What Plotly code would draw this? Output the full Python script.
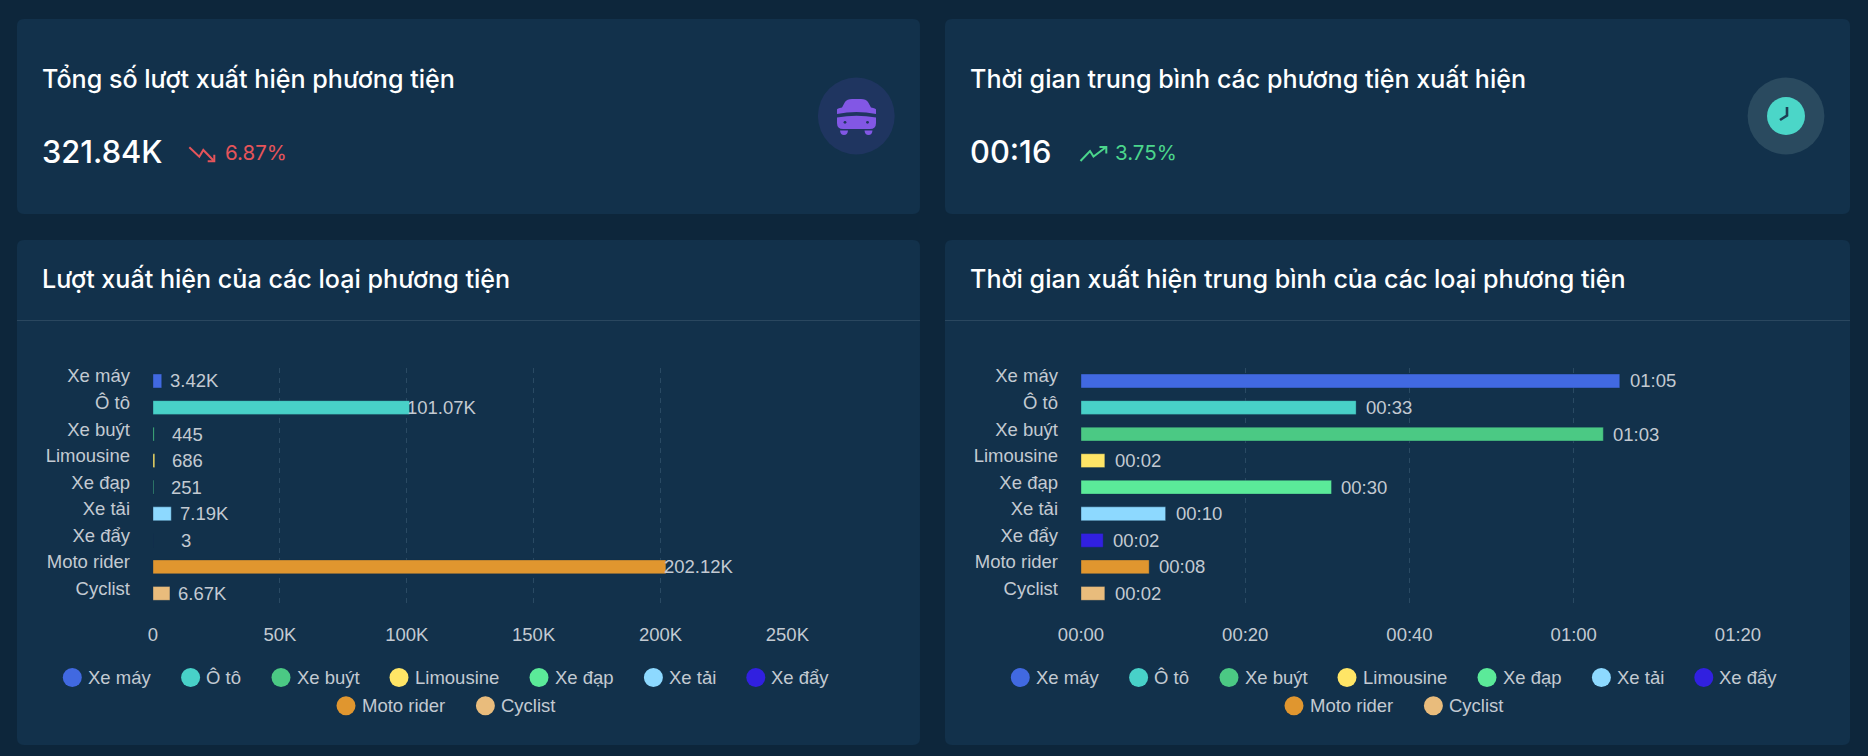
import re
import plotly.graph_objects as go

W, H = 1868, 756

# ---------- data ----------
categories = ["Xe máy", "Ô tô", "Xe buýt", "Limousine", "Xe đạp", "Xe tải", "Xe đẩy", "Moto rider", "Cyclist"]
counts = [3420, 101070, 445, 686, 251, 7190, 3, 202120, 6670]
count_labels = ["3.42K", "101.07K", "445", "686", "251", "7.19K", "3", "202.12K", "6.67K"]
durations = [65.6, 33.5, 63.6, 2.9, 30.5, 10.3, 2.7, 8.3, 2.9]
duration_labels = ["01:05", "00:33", "01:03", "00:02", "00:30", "00:10", "00:02", "00:08", "00:02"]
count_ticks = [0, 50000, 100000, 150000, 200000, 250000]
count_ticktext = ["0", "50K", "100K", "150K", "200K", "250K"]
duration_ticks = [0, 20, 40, 60, 80]
duration_ticktext = ["00:00", "00:20", "00:40", "01:00", "01:20"]
colors = ["#4169E1", "#48D1C8", "#4BC984", "#FFE566", "#5BEA99", "#8DD9FF", "#3120E0", "#E0962F", "#E9BC7C"]

# ---------- style ----------
PAGE = "#0D263B"
CARD = "#12314B"
FONT = "Inter"
CHART_FONT = "Liberation Sans"
CHART_SIZE = 18.5
LABEL = "#C3CAD2"
GRID = "#2A4A63"
DIVIDER = "#2A475F"


def fx(px):
    return px / W


def fy(py):
    return 1 - py / H


def path(spec):
    """Pixel path string -> paper fraction path string."""
    out, i = [], 0
    for tok in re.findall(r"[A-Za-z]|-?\d+\.?\d*", spec):
        if tok.isalpha():
            out.append(tok)
            i = 0
        else:
            v = float(tok)
            out.append(f"{fx(v):.6f}" if i % 2 == 0 else f"{fy(v):.6f}")
            i += 1
    return " ".join(out)


def rrect(x0, y0, x1, y1, r=7):
    return (f"M {x0+r} {y0} L {x1-r} {y0} Q {x1} {y0} {x1} {y0+r} L {x1} {y1-r} Q {x1} {y1} {x1-r} {y1} "
            f"L {x0+r} {y1} Q {x0} {y1} {x0} {y1-r} L {x0} {y0+r} Q {x0} {y0} {x0+r} {y0} Z")


shapes, annots = [], []


def fill_path(spec, color):
    shapes.append(dict(type="path", xref="paper", yref="paper", path=path(spec), fillcolor=color,
                       line=dict(width=0), layer="below"))


def stroke_path(spec, color, w=2):
    shapes.append(dict(type="path", xref="paper", yref="paper", path=path(spec),
                       line=dict(color=color, width=w), layer="below"))


def circle(cx, cy, r, color):
    shapes.append(dict(type="circle", xref="paper", yref="paper", x0=fx(cx - r), x1=fx(cx + r),
                       y0=fy(cy - r), y1=fy(cy + r), fillcolor=color, line=dict(width=0), layer="below"))


def text(x, y, s, size, color, family=FONT, weight=400):
    annots.append(dict(xref="paper", yref="paper", x=fx(x), y=fy(y), text=s, showarrow=False,
                       xanchor="left", yanchor="middle", borderpad=0,
                       font=dict(family=family, size=size, color=color, weight=weight)))


# cards
for x0, x1 in [(17, 920), (945, 1850)]:
    fill_path(rrect(x0, 19, x1, 214), CARD)
    fill_path(rrect(x0, 240, x1, 745), CARD)
    shapes.append(dict(type="line", xref="paper", yref="paper", x0=fx(x0), x1=fx(x1), y0=fy(320.5), y1=fy(320.5),
                       line=dict(color=DIVIDER, width=1), layer="below"))

# headers
text(41, 79.5, "Tổng số lượt xuất hiện phương tiện", 25.1, "#FFFFFF", weight=500)
text(969, 79.5, "Thời gian trung bình các phương tiện xuất hiện", 25.1, "#FFFFFF", weight=500)
text(41, 279, "Lượt xuất hiện của các loại phương tiện", 25.1, "#FFFFFF", weight=500)
text(969, 279, "Thời gian xuất hiện trung bình của các loại phương tiện", 25.1, "#FFFFFF", weight=500)
text(41, 151.5, "321.84K", 30.8, "#FFFFFF", weight=500)
text(969, 151.5, "00:16", 30.8, "#FFFFFF", weight=500)
text(223.5, 153, "6.87%", 20.5, "#E5545A")
text(1114, 153, "3.75%", 20.5, "#4BD68C")

# trend arrows
stroke_path("M 189.3 147.3 L 199.3 156.7 L 203.3 150 L 213.5 160.5", "#E5545A")
stroke_path("M 214.3 154.7 L 214.3 161.3 L 207.7 161.3", "#E5545A")
stroke_path("M 1080.5 161 L 1090 151 L 1093.5 156.5 L 1105.5 147.5", "#4BD68C")
stroke_path("M 1099.5 147 L 1106.3 147 L 1106.3 153.5", "#4BD68C")

# car icon
circle(856.3, 116, 38.4, "#1F3560")
PURPLE = "#8257E5"
fill_path("M 837 114 L 837 109.5 Q 837 108.5 842 107.5 L 845 102 Q 847 99 852 99 L 861 99 Q 866 99 868 102 "
          "L 871 107.5 Q 876 108.5 876 109.5 L 876 114 Q 856.5 110 837 114 Z", PURPLE)
fill_path("M 837 117.5 Q 856.5 114 876 117.5 L 876 123 Q 876 129 870 129 L 843 129 Q 837 129 837 123 Z", PURPLE)
circle(845, 122.3, 1.4, "#1F3560")
circle(867.5, 122.3, 1.4, "#1F3560")
fill_path("M 840 130.5 L 848 130.5 Q 847.5 135 844 135 Q 840.5 135 840 130.5 Z", PURPLE)
fill_path("M 864.5 130.5 L 872.5 130.5 Q 872 135 868.5 135 Q 865 135 864.5 130.5 Z", PURPLE)

# clock icon
circle(1786, 116, 38.4, "#2A4A5F")
circle(1786, 116, 19, "#4BD6C8")
stroke_path("M 1787 107 L 1787 115.5 L 1780 120", "#1D3F55", 2.6)

# plot-level legends
legend_x = [72.3, 190.6, 281, 399, 539, 653.4, 755.8, 346, 485.4]
legend_y = [677.5] * 7 + [705.7] * 2
for offset in (0, 948):
    for name, c, lx, ly in zip(categories, colors, legend_x, legend_y):
        circle(lx + offset, ly, 9.5, c)
        text(lx + offset + 14.5, ly, name, CHART_SIZE, LABEL, family=CHART_FONT)

BAR_EDGE = "rgba(18,49,75,0.35)"
fig = go.Figure()
fig.add_trace(go.Bar(x=counts, y=categories, orientation="h", width=0.52, xaxis="x", yaxis="y",
                     marker=dict(color=colors, line=dict(color=BAR_EDGE, width=1)),
                     showlegend=False, hoverinfo="x+y"))
fig.add_trace(go.Bar(x=durations, y=categories, orientation="h", width=0.52, xaxis="x2", yaxis="y2",
                     marker=dict(color=colors, line=dict(color=BAR_EDGE, width=1)),
                     showlegend=False, hoverinfo="x+y"))

# value labels follow each bar end
for c, v, lab in zip(categories, counts, count_labels):
    annots.append(dict(xref="x", yref="y", x=v, y=c, text=lab, xshift=33, showarrow=False, xanchor="center",
                       yanchor="middle", font=dict(family=CHART_FONT, size=CHART_SIZE, color=LABEL)))
for c, v, lab in zip(categories, durations, duration_labels):
    annots.append(dict(xref="x2", yref="y2", x=v, y=c, text=lab, xshift=33, showarrow=False, xanchor="center",
                       yanchor="middle", font=dict(family=CHART_FONT, size=CHART_SIZE, color=LABEL)))

xax = dict(showgrid=True, gridcolor=GRID, griddash="5px,5px", gridwidth=1, zeroline=False, showline=False,
           ticks="", ticklabelstandoff=15, automargin=False,
           tickfont=dict(family=CHART_FONT, size=CHART_SIZE, color=LABEL))
yax = dict(type="category", categoryorder="array", categoryarray=categories, range=[8.5, -0.5],
           showgrid=False, zeroline=False, showline=False, ticks="", ticklabelstandoff=22, ticklabelshift=5,
           automargin=False, tickfont=dict(family=CHART_FONT, size=CHART_SIZE, color=LABEL))

fig.update_layout(
    width=W, height=H, margin=dict(l=0, r=0, t=0, b=0, pad=0), autosize=False,
    paper_bgcolor=PAGE, plot_bgcolor="rgba(0,0,0,0)", showlegend=False, bargap=0.5,
    xaxis={**xax, "anchor": "y", "domain": [fx(153), fx(787.4)], "range": [0, 250000],
           "tickvals": count_ticks, "ticktext": count_ticktext},
    yaxis={**yax, "anchor": "x", "domain": [fy(606.7), fy(367.7)]},
    xaxis2={**xax, "anchor": "y2", "domain": [fx(1081), fx(1738)], "range": [0, 80],
            "tickvals": duration_ticks, "ticktext": duration_ticktext},
    yaxis2={**yax, "anchor": "x2", "domain": [fy(606.7), fy(367.7)]},
    shapes=shapes, annotations=annots,
)

fig.write_html("out.html", config=dict(displayModeBar=False),
               post_script="document.body.style.margin='0';document.body.style.overflow='hidden';")
